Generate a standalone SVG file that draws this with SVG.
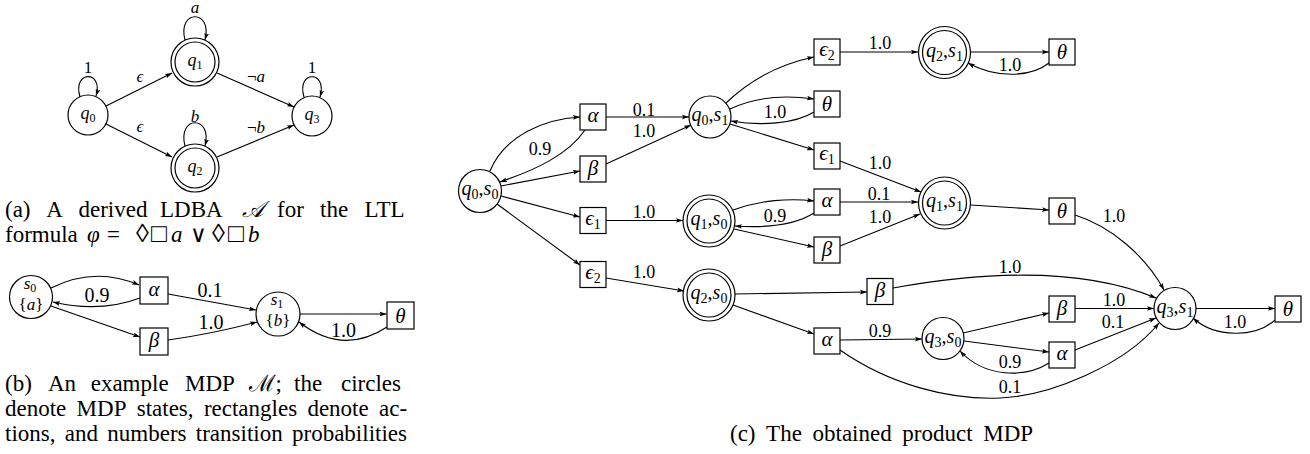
<svg xmlns="http://www.w3.org/2000/svg" width="1310" height="454" viewBox="0 0 1310 454" font-family="Liberation Serif, Times New Roman, Tinos, DejaVu Serif, Noto Serif, serif">
<defs>
<marker id="arr" viewBox="0 0 8 6" refX="8" refY="3" markerWidth="7" markerHeight="5.25" orient="auto" markerUnits="userSpaceOnUse"><path d="M0,0.3 L8,3 L0,5.7 L1.6,3 Z" fill="#000"/></marker>
<style>
text{font-family:"Liberation Serif","Times New Roman",Tinos,"DejaVu Serif","Noto Serif",serif;fill:#000}
.st{fill:#fff;stroke:#000;stroke-width:1.2}
.e{fill:none;stroke:#000;stroke-width:1.1;marker-end:url(#arr)}
.nl{font-size:20px;text-anchor:middle}
.nla{font-size:18px;text-anchor:middle}
.nlb{font-size:17px;text-anchor:middle}
.i{font-style:italic}
.sb{font-size:14px;font-style:normal}
.sba{font-size:12px;font-style:normal}
.bx{font-size:21px;font-style:italic;text-anchor:middle}
.lb{font-size:18px;text-anchor:middle}
.lbb{font-size:20px;text-anchor:middle}
.la{font-size:17px;text-anchor:middle}
.cap{font-size:23px}
.sym{font-size:26px}
</style>
</defs>
<rect width="1310" height="454" fill="#fff"/>

<!-- (a) LDBA -->
<g id="a-edges">
<path class="e" d="M80 97 C72 70 104 70 96 96"/>
<path class="e" d="M185 40 C177 9 213 9 205 40"/>
<path class="e" d="M185 146 C177 115 213 115 205 146"/>
<path class="e" d="M304 97 C296 70 328 70 320 97"/>
<path class="e" d="M106 106 L172 73"/>
<path class="e" d="M106 124 L172 157"/>
<path class="e" d="M217 73 L294 107"/>
<path class="e" d="M217 157 L294 125"/>
<text class="la" x="88" y="72.5">1</text>
<text class="la i" x="195" y="13">a</text>
<text class="la i" x="195" y="122">b</text>
<text class="la" x="312" y="72.5">1</text>
<text class="la i" x="140" y="81.5">ϵ</text>
<text class="la i" x="140" y="131.5">ϵ</text>
<text class="la" x="256" y="81.5">¬<tspan class="i">a</tspan></text>
<text class="la" x="256" y="133">¬<tspan class="i">b</tspan></text>
</g>
<g id="a-q0"><circle class="st" cx="88" cy="115" r="20"/><text class="nla" x="88" y="119"><tspan class="i">q</tspan><tspan class="sba" dy="3">0</tspan></text></g>
<g id="a-q1"><circle class="st" cx="195" cy="62" r="24"/><circle class="st" cx="195" cy="62" r="20"/><text class="nla" x="195" y="66"><tspan class="i">q</tspan><tspan class="sba" dy="3">1</tspan></text></g>
<g id="a-q2"><circle class="st" cx="195" cy="168" r="24"/><circle class="st" cx="195" cy="168" r="20"/><text class="nla" x="195" y="172"><tspan class="i">q</tspan><tspan class="sba" dy="3">2</tspan></text></g>
<g id="a-q3"><circle class="st" cx="312" cy="116" r="20"/><text class="nla" x="312" y="120"><tspan class="i">q</tspan><tspan class="sba" dy="3">3</tspan></text></g>

<g id="cap-a" class="cap">
<text y="217"><tspan x="5">(a)</tspan><tspan x="46.3">A</tspan><tspan x="78.5">derived</tspan><tspan x="160">LDBA</tspan><tspan x="242" font-style="italic">𝒜</tspan><tspan x="277">for</tspan><tspan x="320">the</tspan><tspan x="364.5">LTL</tspan></text>
<text y="242"><tspan x="5">formula</tspan><tspan x="87" font-style="italic">φ</tspan><tspan x="107">=</tspan><tspan x="136" class="sym">◊</tspan><tspan x="151" class="sym">□</tspan><tspan x="171" font-style="italic">a</tspan><tspan x="190">∨</tspan><tspan x="212" class="sym">◊</tspan><tspan x="228" class="sym">□</tspan><tspan x="248" font-style="italic">b</tspan></text>
</g>

<!-- (b) MDP -->
<g id="b-edges">
<path class="e" d="M51 288 Q95 266 139 285"/>
<path class="e" d="M140 298 Q100 313 53 302"/>
<path class="e" d="M168 294 L256 310"/>
<path class="e" d="M51 306 L140 337"/>
<path class="e" d="M168 340 Q212 334 257 322"/>
<path class="e" d="M300 314 L386.5 314"/>
<path class="e" d="M387 327 Q343 356 299 322"/>
<text class="lbb" x="97" y="302">0.9</text>
<text class="lbb" x="210" y="297">0.1</text>
<text class="lbb" x="211" y="329">1.0</text>
<text class="lbb" x="343.5" y="336.5">1.0</text>
</g>
<g id="b-s0"><circle class="st" cx="31" cy="297" r="21.5"/><text class="nlb" x="30" y="289"><tspan class="i">s</tspan><tspan class="sba" dy="3">0</tspan></text><text class="nlb" x="31" y="310">{<tspan class="i">a</tspan>}</text></g>
<g id="b-alpha"><rect class="st" x="140" y="277" width="28" height="27"/><text class="bx" x="154" y="295.5">α</text></g>
<g id="b-beta"><rect class="st" x="140" y="328" width="28" height="27"/><text class="bx" x="154" y="346.5">β</text></g>
<g id="b-s1"><circle class="st" cx="278" cy="314" r="22"/><text class="nlb" x="277" y="305"><tspan class="i">s</tspan><tspan class="sba" dy="3">1</tspan></text><text class="nlb" x="278" y="326">{<tspan class="i">b</tspan>}</text></g>
<g id="b-theta"><rect class="st" x="387" y="302" width="27" height="27"/><text class="bx" x="400.5" y="322.5">θ</text></g>

<g id="cap-b" class="cap">
<text y="391"><tspan x="5">(b)</tspan><tspan x="48">An</tspan><tspan x="90.7">example</tspan><tspan x="185">MDP</tspan><tspan x="249" font-style="italic">ℳ</tspan><tspan>;</tspan><tspan x="294">the</tspan><tspan x="341">circles</tspan></text>
<text y="416"><tspan x="5">denote</tspan><tspan x="76.6">MDP</tspan><tspan x="136.7">states,</tspan><tspan x="203.9">rectangles</tspan><tspan x="307.4">denote</tspan><tspan x="379">ac-</tspan></text>
<text y="441"><tspan x="5">tions,</tspan><tspan x="64.8">and</tspan><tspan x="107.3">numbers</tspan><tspan x="195.8">transition</tspan><tspan x="292">probabilities</tspan></text>
</g>

<!-- (c) product MDP -->
<g id="c-edges">
<path class="e" d="M490 171 C505 135 545 119 580 117"/>
<path class="e" d="M585 130 C568 155 535 170 500 182"/>
<path class="e" d="M501 186 L580 171"/>
<path class="e" d="M606 164 L691 125"/>
<path class="e" d="M606 117 L689 117"/>
<path class="e" d="M501 196 L580 217"/>
<path class="e" d="M606 220.5 L683 220.5"/>
<path class="e" d="M497 204 L580 265"/>
<path class="e" d="M606 278 L684 291"/>
<path class="e" d="M726 103 C750 80 780 64 814 57"/>
<path class="e" d="M840 52 L918 52"/>
<path class="e" d="M730 109 C755 97 785 95 814 99"/>
<path class="e" d="M814 112 C795 124 760 126 731 121"/>
<path class="e" d="M730 124 L814 150"/>
<path class="e" d="M840 161 L921 192"/>
<path class="e" d="M733 210 C760 200 790 198 814 201"/>
<path class="e" d="M814 213 C795 225 765 228 735 226"/>
<path class="e" d="M734 229 L814 247"/>
<path class="e" d="M840 202 L918 202"/>
<path class="e" d="M840 246 L920 214"/>
<path class="e" d="M970.5 205 L1049 210"/>
<path class="e" d="M1075 215 C1110 226 1145 255 1164 290"/>
<path class="e" d="M735 294 L867 292"/>
<path class="e" d="M893 288 Q1060 258 1156 298"/>
<path class="e" d="M733 305 L814 334"/>
<path class="e" d="M840 340 L922 339"/>
<path class="e" d="M840 350 C890 385 950 400 1000 398 S1125 365 1159 323"/>
<path class="e" d="M963 333 L1049 313"/>
<path class="e" d="M964 341 L1049 352"/>
<path class="e" d="M1049 363 C1025 378 985 378 960 351"/>
<path class="e" d="M1075 308.5 L1154 308.5"/>
<path class="e" d="M1075 350 L1156 318"/>
<path class="e" d="M1196 308.5 L1275 308.5"/>
<path class="e" d="M1275 320 C1255 338 1215 338 1193 318"/>
<path class="e" d="M970.5 52 L1049 52"/>
<path class="e" d="M1049 63 C1030 78 995 78 968 63"/>
<text class="lb" x="540" y="155">0.9</text>
<text class="lb" x="644" y="116">0.1</text>
<text class="lb" x="644" y="137">1.0</text>
<text class="lb" x="644" y="218">1.0</text>
<text class="lb" x="644" y="278">1.0</text>
<text class="lb" x="880" y="49">1.0</text>
<text class="lb" x="775" y="118">1.0</text>
<text class="lb" x="880" y="169">1.0</text>
<text class="lb" x="775" y="222">0.9</text>
<text class="lb" x="879" y="200">0.1</text>
<text class="lb" x="880" y="223">1.0</text>
<text class="lb" x="1114" y="222">1.0</text>
<text class="lb" x="1010" y="273">1.0</text>
<text class="lb" x="880" y="337">0.9</text>
<text class="lb" x="1010" y="393">0.1</text>
<text class="lb" x="1010" y="368">0.9</text>
<text class="lb" x="1114" y="306">1.0</text>
<text class="lb" x="1113" y="328">0.1</text>
<text class="lb" x="1235" y="328">1.0</text>
<text class="lb" x="1010" y="71">1.0</text>
</g>

<g id="c-q0s0"><circle class="st" cx="480" cy="191" r="21.5"/><text class="nl" x="480" y="195"><tspan class="i">q</tspan><tspan class="sb" dy="4">0</tspan><tspan dy="-4">,</tspan><tspan class="i">s</tspan><tspan class="sb" dy="4">0</tspan></text></g>
<g id="c-q0s1"><circle class="st" cx="710" cy="117" r="21"/><text class="nl" x="710" y="121"><tspan class="i">q</tspan><tspan class="sb" dy="4">0</tspan><tspan dy="-4">,</tspan><tspan class="i">s</tspan><tspan class="sb" dy="4">1</tspan></text></g>
<g id="c-q1s0"><circle class="st" cx="709" cy="221" r="26"/><circle class="st" cx="709" cy="221" r="22"/><text class="nl" x="709" y="225"><tspan class="i">q</tspan><tspan class="sb" dy="4">1</tspan><tspan dy="-4">,</tspan><tspan class="i">s</tspan><tspan class="sb" dy="4">0</tspan></text></g>
<g id="c-q2s0"><circle class="st" cx="709" cy="295" r="26"/><circle class="st" cx="709" cy="295" r="22"/><text class="nl" x="709" y="299"><tspan class="i">q</tspan><tspan class="sb" dy="4">2</tspan><tspan dy="-4">,</tspan><tspan class="i">s</tspan><tspan class="sb" dy="4">0</tspan></text></g>
<g id="c-q2s1"><circle class="st" cx="944.5" cy="52.5" r="26"/><circle class="st" cx="944.5" cy="52.5" r="22"/><text class="nl" x="944.5" y="56.5"><tspan class="i">q</tspan><tspan class="sb" dy="4">2</tspan><tspan dy="-4">,</tspan><tspan class="i">s</tspan><tspan class="sb" dy="4">1</tspan></text></g>
<g id="c-q1s1"><circle class="st" cx="944.5" cy="203" r="26"/><circle class="st" cx="944.5" cy="203" r="22"/><text class="nl" x="944.5" y="207"><tspan class="i">q</tspan><tspan class="sb" dy="4">1</tspan><tspan dy="-4">,</tspan><tspan class="i">s</tspan><tspan class="sb" dy="4">1</tspan></text></g>
<g id="c-q3s0"><circle class="st" cx="943" cy="338.5" r="21"/><text class="nl" x="943" y="342.5"><tspan class="i">q</tspan><tspan class="sb" dy="4">3</tspan><tspan dy="-4">,</tspan><tspan class="i">s</tspan><tspan class="sb" dy="4">0</tspan></text></g>
<g id="c-q3s1"><circle class="st" cx="1175" cy="308.5" r="21"/><text class="nl" x="1175" y="312.5"><tspan class="i">q</tspan><tspan class="sb" dy="4">3</tspan><tspan dy="-4">,</tspan><tspan class="i">s</tspan><tspan class="sb" dy="4">1</tspan></text></g>

<g id="c-alpha1"><rect class="st" x="580" y="104" width="26" height="26"/><text class="bx" x="593" y="122">α</text></g>
<g id="c-beta1"><rect class="st" x="580" y="156" width="26" height="26"/><text class="bx" x="593" y="174.5">β</text></g>
<g id="c-eps1a"><rect class="st" x="580" y="207.5" width="26" height="26"/><text class="bx" x="593" y="224.5">ϵ<tspan class="sb" dy="4">1</tspan></text></g>
<g id="c-eps2a"><rect class="st" x="580" y="261.5" width="26" height="26"/><text class="bx" x="593" y="278.5">ϵ<tspan class="sb" dy="4">2</tspan></text></g>
<g id="c-eps2b"><rect class="st" x="814" y="39" width="26" height="26"/><text class="bx" x="827" y="56">ϵ<tspan class="sb" dy="4">2</tspan></text></g>
<g id="c-theta1"><rect class="st" x="814" y="91" width="26" height="26"/><text class="bx" x="827" y="111">θ</text></g>
<g id="c-eps1b"><rect class="st" x="814" y="143" width="26" height="26"/><text class="bx" x="827" y="160">ϵ<tspan class="sb" dy="4">1</tspan></text></g>
<g id="c-alpha2"><rect class="st" x="814" y="189" width="26" height="26"/><text class="bx" x="827" y="207">α</text></g>
<g id="c-beta2"><rect class="st" x="814" y="237" width="26" height="26"/><text class="bx" x="827" y="255.5">β</text></g>
<g id="c-beta3"><rect class="st" x="867" y="278.5" width="26" height="26"/><text class="bx" x="880" y="297">β</text></g>
<g id="c-alpha3"><rect class="st" x="814" y="328" width="26" height="26"/><text class="bx" x="827" y="346">α</text></g>
<g id="c-theta2"><rect class="st" x="1049" y="39" width="26" height="26"/><text class="bx" x="1062" y="59">θ</text></g>
<g id="c-theta3"><rect class="st" x="1049" y="198" width="26" height="26"/><text class="bx" x="1062" y="218">θ</text></g>
<g id="c-beta4"><rect class="st" x="1049" y="296" width="26" height="26"/><text class="bx" x="1062" y="314.5">β</text></g>
<g id="c-alpha4"><rect class="st" x="1049" y="342" width="26" height="26"/><text class="bx" x="1062" y="360">α</text></g>
<g id="c-theta4"><rect class="st" x="1275" y="296" width="26" height="26"/><text class="bx" x="1288" y="316">θ</text></g>

<g id="cap-c" class="cap">
<text y="441"><tspan x="730">(c)</tspan><tspan x="766.1">The</tspan><tspan x="812.5">obtained</tspan><tspan x="902.3">product</tspan><tspan x="983.2">MDP</tspan></text>
</g>
</svg>
